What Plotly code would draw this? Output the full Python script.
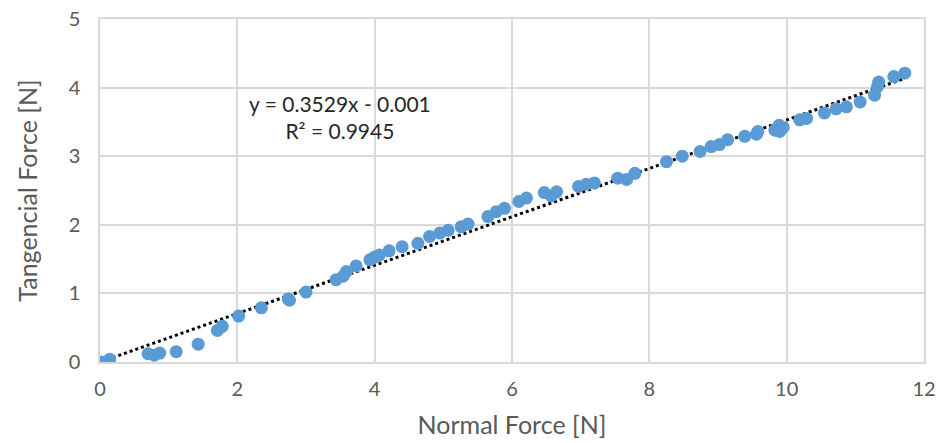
import plotly.graph_objects as go

# Data
normal_force = [0.02, 0.14, 0.70, 0.79, 0.87, 1.11, 1.43, 1.71, 1.78, 2.02, 2.35, 2.74, 2.76, 3.00,
                3.44, 3.54, 3.59, 3.73, 3.93, 4.00, 4.07, 4.21, 4.40, 4.63, 4.80, 4.95, 5.07,
                5.26, 5.36, 5.65, 5.77, 5.89, 6.10, 6.21, 6.47, 6.57, 6.65, 6.97, 7.08, 7.20,
                7.54, 7.67, 7.79, 8.25, 8.48, 8.74, 8.90, 9.02, 9.14, 9.39, 9.56, 9.58,
                9.83, 9.89, 9.90, 9.95, 10.19, 10.29, 10.55, 10.72, 10.87, 11.07, 11.28,
                11.32, 11.34, 11.56, 11.72]
tangential_force = [0.00, 0.04, 0.12, 0.10, 0.13, 0.15, 0.26, 0.46, 0.52, 0.67, 0.79, 0.92, 0.90, 1.02,
                    1.20, 1.25, 1.32, 1.40, 1.49, 1.53, 1.56, 1.62, 1.68, 1.73, 1.83, 1.88, 1.92,
                    1.97, 2.01, 2.12, 2.19, 2.24, 2.34, 2.39, 2.47, 2.42, 2.48, 2.56, 2.59, 2.61,
                    2.68, 2.66, 2.75, 2.92, 3.00, 3.07, 3.14, 3.17, 3.24, 3.29, 3.32, 3.36,
                    3.38, 3.45, 3.36, 3.42, 3.53, 3.55, 3.63, 3.69, 3.72, 3.79, 3.89,
                    4.01, 4.08, 4.16, 4.21]
trend_slope = 0.3529
trend_intercept = -0.001
trend_label = "y = 0.3529x - 0.001<br>R² = 0.9945"
x_ticks = [0, 2, 4, 6, 8, 10, 12]
y_ticks = [0, 1, 2, 3, 4, 5]

FONT = "Lato"
GRID = "#D9D9D9"

trend_x = [min(normal_force), max(normal_force)]
trend_y = [trend_slope * v + trend_intercept for v in trend_x]

fig = go.Figure()
fig.add_trace(go.Scatter(
    x=trend_x, y=trend_y, mode="lines",
    line=dict(color="black", width=3, dash="dot"),
    hoverinfo="skip", showlegend=False,
))
fig.add_trace(go.Scatter(
    x=normal_force, y=tangential_force, mode="markers",
    marker=dict(color="#5B9BD5", size=13),
    showlegend=False,
))

fig.add_annotation(
    x=3.49, y=3.57, xref="x", yref="y", text=trend_label, showarrow=False,
    align="center", font=dict(family=FONT, size=21, color="#262626"),
)

fig.update_layout(
    width=941, height=443,
    margin=dict(l=100, r=17, t=19, b=81, autoexpand=False),
    paper_bgcolor="white", plot_bgcolor="white",
    font=dict(family=FONT, color="#404040"),
)
fig.update_xaxes(
    range=[0, 12], tickvals=x_ticks, showgrid=True, gridcolor=GRID, gridwidth=1.5,
    zeroline=False, showline=True, mirror=True, linecolor=GRID, linewidth=1.5, automargin=False,
    ticklabeloverflow="allow",
    tickfont=dict(family=FONT, size=20, color="#595959"), ticks="", ticklabelstandoff=8,
    title=dict(text="Normal Force [N]", font=dict(family=FONT, size=25, color="#595959"), standoff=18),
)
fig.update_yaxes(
    range=[0, 5], tickvals=y_ticks, showgrid=True, gridcolor=GRID, gridwidth=1.5,
    zeroline=False, showline=True, mirror=True, linecolor=GRID, linewidth=1.5, automargin=False,
    ticklabeloverflow="allow",
    tickfont=dict(family=FONT, size=20, color="#595959"), ticks="", ticklabelstandoff=14,
    title=dict(text="Tangencial Force [N]", font=dict(family=FONT, size=25, color="#595959"), standoff=24),
)

# remove the page's default body margin so the figure fills the window exactly
fig.write_html("out.html", config={"displayModeBar": False},
               post_script="document.body.style.margin='0';")
